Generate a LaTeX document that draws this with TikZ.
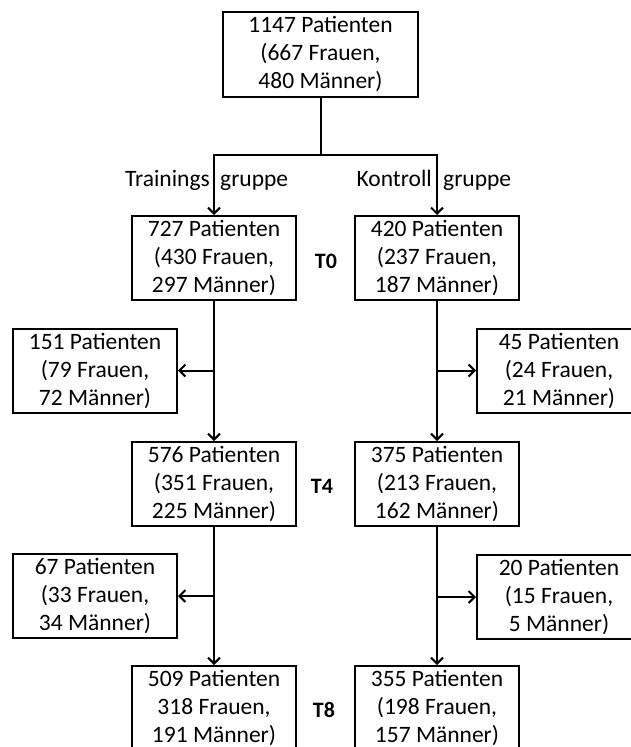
\documentclass[tikz,border=0pt]{standalone}
\usepackage{fontspec}
\setmainfont{Carlito}
\usetikzlibrary{arrows.meta}

\tikzset{
  box/.style={draw=black, line width=2pt, minimum width=164pt, minimum height=84pt,
    inner sep=0pt, align=center, font=\fontsize{23.5}{28}\selectfont},
  flow/.style={line width=2pt, -{Straight Barb[length=6pt,width=12pt]}},
  zeit/.style={font=\fontsize{22}{26}\selectfont\bfseries},
  grp/.style={font=\fontsize{23.5}{28}\selectfont, inner sep=0pt}
}

\begin{document}
\begin{tikzpicture}[x=1pt,y=-1pt]
      \path[use as bounding box, clip] (0,0) rectangle (631,747);
      % \draw[very thin, gray, step=50] (0,0) grid (631,747);
      \node[box, minimum width=195pt, minimum height=85pt] (total) at (320.5,54.5) {1147 Patienten\\(667 Frauen,\\480 Männer)};
      \coordinate (split) at (320.5,155);

      \node[box] (tg0) at (214,258) {727 Patienten\\(430 Frauen,\\297 Männer)};
      \node[box] (kg0) at (437,258) {420 Patienten\\(237 Frauen,\\187 Männer)};
      \node[zeit] (t0) at (326,261) {T0};

      \node[box] (tdrop1) at (95,370.5) {151 Patienten\\(79 Frauen,\\72 Männer)};
      \node[box] (kdrop1) at (559,370.5) {45 Patienten\\(24 Frauen,\\21 Männer)};

      \node[box] (tg4) at (214,484) {576 Patienten\\(351 Frauen,\\225 Männer)};
      \node[box] (kg4) at (437,484) {375 Patienten\\(213 Frauen,\\162 Männer)};
      \node[zeit] (t4) at (322,486) {T4};

      \node[box] (tdrop2) at (95,596) {67 Patienten\\(33 Frauen,\\34 Männer)};
      \node[box] (kdrop2) at (559,597) {20 Patienten\\(15 Frauen,\\5 Männer)};

      \node[box] (tg8) at (214,708) {509 Patienten\\318 Frauen,\\191 Männer)};
      \node[box] (kg8) at (437,708) {355 Patienten\\(198 Frauen,\\157 Männer)};
      \node[zeit] (t8) at (324,710) {T8};

      % Aufteilung
      \draw[line width=2pt] (total) -- (split);
      \draw[flow] (split) -| (tg0.north);
      \draw[flow] (split) -| (kg0.north);
      \node[grp, anchor=base east] (trlabel) at (210,186) {Trainings};
      \node[grp, anchor=base west] (trgruppe) at (220,186) {gruppe};
      \node[grp, anchor=base east] (kolabel) at (432,186) {Kontroll};
      \node[grp, anchor=base west] (kogruppe) at (443,186) {gruppe};

      % Verlauf
      \draw[flow] (tg0) -- (tg4);
      \draw[flow] (tg4) -- (tg8);
      \draw[flow] (kg0) -- (kg4);
      \draw[flow] (kg4) -- (kg8);
      \draw[flow] (tg0.south |- tdrop1) -- (tdrop1.east);
      \draw[flow] (kg0.south |- kdrop1) -- (kdrop1.west);
      \draw[flow] (tg4.south |- tdrop2) -- (tdrop2.east);
      \draw[flow] (kg4.south |- kdrop2) -- (kdrop2.west);
    \end{tikzpicture}
\end{document}
